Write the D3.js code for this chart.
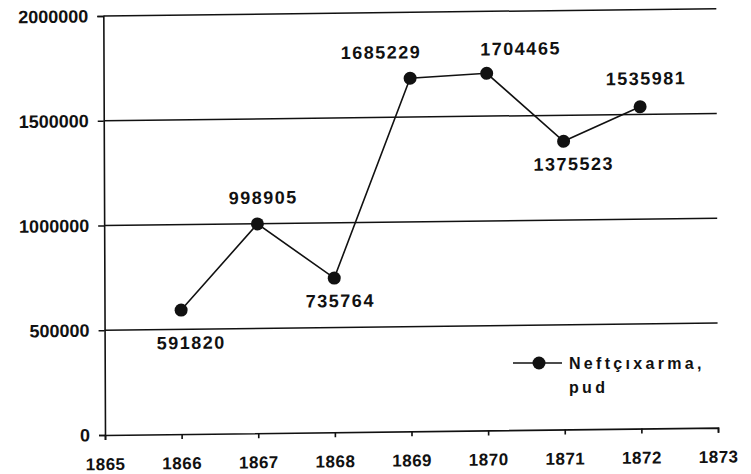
<!DOCTYPE html>
<html>
<head>
<meta charset="utf-8">
<script src="https://cdn.jsdelivr.net/npm/d3@7"></script>
<style>
  body { margin: 0; background: #fff; }
  text { font-family: "Liberation Sans", Arial, sans-serif; font-weight: bold; fill: #111; }
</style>
</head>
<body>
<div id="chart"></div>
<script>
// data
const years = [1866, 1867, 1868, 1869, 1870, 1871, 1872];
const production = [591820, 998905, 735764, 1685229, 1704465, 1375523, 1535981];
const yTicks = [0, 500000, 1000000, 1500000, 2000000];
const xTicks = [1865, 1866, 1867, 1868, 1869, 1870, 1871, 1872, 1873];
const seriesName = ["Neftçıxarma,", "pud"];

// where each value label sits relative to its point (px)
const labelDx = [10, 6, 6, -29, 34, 10, 6];
const labelDy = [39, -20, 29, -20, -18, 29, -22];

const width = 751;
const height = 474;
const margin = { top: 16, right: 33, bottom: 39, left: 105 };

const svg = d3.select("#chart")
  .append("svg")
  .attr("width", width)
  .attr("height", height);

const x = d3.scaleLinear()
  .domain([1865, 1873])
  .range([margin.left, width - margin.right]);

const y = d3.scaleLinear()
  .domain([0, 2000000])
  .range([height - margin.bottom, margin.top]);

// the scanned original is slightly skewed, mimic it around the origin
const ox = x(1865), oy = y(0);
const g = svg.append("g")
  .attr("transform", `translate(${ox},${oy}) matrix(1,-0.012,0.004,1,0,0) translate(${-ox},${-oy})`);

// gridlines
g.append("g")
  .selectAll("line")
  .data(yTicks.filter(d => d > 0))
  .enter()
  .append("line")
  .attr("x1", x(1865))
  .attr("x2", x(1873))
  .attr("y1", d => y(d))
  .attr("y2", d => y(d))
  .attr("stroke", "#111")
  .attr("stroke-width", 1.5);

// y axis
const yAxis = g.append("g")
  .attr("transform", `translate(${x(1865)},0)`)
  .call(d3.axisLeft(y).tickValues(yTicks).tickSize(6).tickPadding(9).tickFormat(d3.format("d")));
yAxis.selectAll("text").style("font-size", "18px");

// x axis
const xAxis = g.append("g")
  .attr("transform", `translate(0,${y(0)})`)
  .call(d3.axisBottom(x).tickValues(xTicks).tickSize(5).tickPadding(18).tickFormat(d3.format("d")));
xAxis.selectAll("text").style("font-size", "17px").style("letter-spacing", "0.5px");

g.selectAll(".domain, .tick line")
  .attr("stroke", "#111")
  .attr("stroke-width", 1.6);

const points = years.map((yr, i) => [yr, production[i]]);

const line = d3.line()
  .x(d => x(d[0]))
  .y(d => y(d[1]));

g.append("path")
  .datum(points)
  .attr("fill", "none")
  .attr("stroke", "#111")
  .attr("stroke-width", 1.6)
  .attr("d", line);

g.selectAll(".dot")
  .data(points)
  .enter()
  .append("circle")
  .attr("class", "dot")
  .attr("cx", d => x(d[0]))
  .attr("cy", d => y(d[1]))
  .attr("r", 6.5)
  .attr("fill", "#111");

// value labels
g.selectAll(".val")
  .data(points)
  .enter()
  .append("text")
  .attr("class", "val")
  .attr("x", (d, i) => x(d[0]) + labelDx[i])
  .attr("y", (d, i) => y(d[1]) + labelDy[i])
  .attr("text-anchor", "middle")
  .style("font-size", "18px")
  .style("letter-spacing", "1.5px")
  .text(d => d[1]);

// legend
const lg = svg.append("g")
  .attr("transform", "translate(513,363)");
lg.append("line")
  .attr("x1", 0).attr("x2", 49)
  .attr("y1", 0).attr("y2", 0)
  .attr("stroke", "#111")
  .attr("stroke-width", 1.6);
lg.append("circle")
  .attr("cx", 26).attr("cy", 0).attr("r", 6.5).attr("fill", "#111");
lg.selectAll("text")
  .data(seriesName)
  .enter()
  .append("text")
  .attr("x", 56)
  .attr("y", (d, i) => 6 + i * 24)
  .style("font-size", "16px")
  .style("letter-spacing", "3.3px")
  .text(d => d);
</script>
</body>
</html>
